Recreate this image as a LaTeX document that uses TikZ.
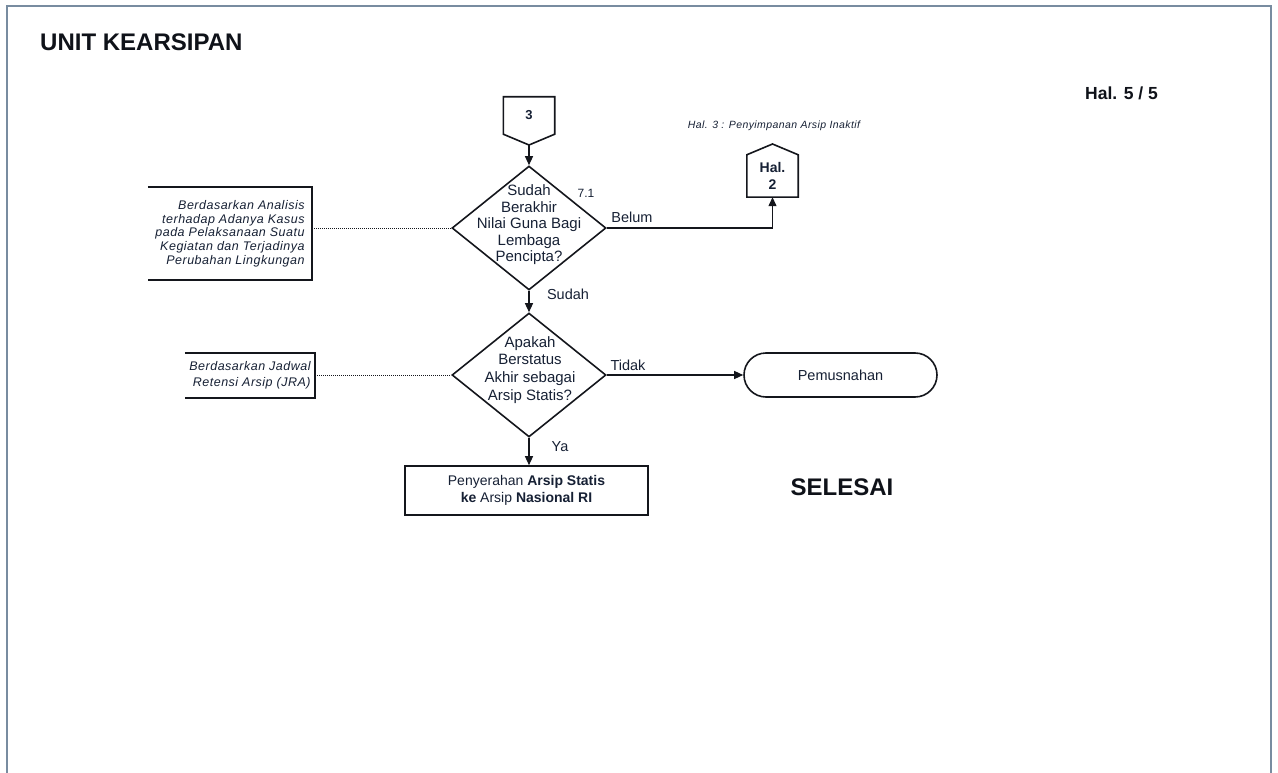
\documentclass[tikz,border=0pt]{standalone}
\usepackage{fontspec}
\setmainfont{Liberation Sans}
\newfontfamily\annfont[LetterSpace=4.0]{Liberation Sans}
\usetikzlibrary{arrows.meta,shapes.geometric,shapes.misc}
\definecolor{ink}{RGB}{22,32,52}
\definecolor{linec}{RGB}{20,22,28}
\definecolor{bordc}{RGB}{120,140,160}
\definecolor{titlec}{RGB}{15,18,25}
\tikzset{
  flow/.style={draw=linec, line width=1.6pt, line join=miter},
  dia/.style={diamond, draw=linec, line width=1.6pt, minimum width=154pt, minimum height=124pt, inner sep=0pt},
  txt/.style={text=ink, font=\fontsize{14.5}{16.5}\selectfont, align=center, inner sep=0pt},
  arr/.style={draw=linec, line width=1.3pt, -{Triangle[length=9pt,width=8pt]}},
  dots/.style={draw=linec, line width=1pt, dash pattern=on 1pt off 1pt},
  anno/.style={align=right, text=ink, inner sep=0pt, font=\annfont\itshape\fontsize{12.5}{13.7}\selectfont},
  holder/.style={inner sep=0pt, minimum width=51pt},
  bigbold/.style={text=titlec, inner sep=0pt, font=\bfseries\fontsize{24}{26}\selectfont}
}
\begin{document}
\begin{tikzpicture}[x=1pt,y=-1pt]
\useasboundingbox (0,0) rectangle (1278,773);
% page frame
\draw[bordc, line width=1.2pt] (7,773) -- (7,6) -- (1271,6) -- (1271,773);

% headings
\node[bigbold, anchor=west] (title) at (40,42) {UNIT KEARSIPAN};
\node[bigbold, anchor=east, font=\bfseries\fontsize{17.5}{20}\selectfont] (page) at (1158,93) {Hal. 5 / 5};
\node[bigbold] (selesai) at (842,487) {SELESAI};

% off-page connector 3
\node[holder, minimum height=37pt, txt, font=\bfseries\fontsize{13}{15}\selectfont] (c3) at (529,115.5) {3};
\coordinate (c3tip) at (529,145);
\draw[flow] (c3.south west) -- (c3.north west) -- (c3.north east) -- (c3.south east) -- (c3tip) -- cycle;

% decision 1
\node[dia] (d1) at (529,228) {};
\node[txt, font=\fontsize{15}{16.5}\selectfont] (t1) at (529,225) {Sudah\\Berakhir\\Nilai Guna Bagi\\Lembaga\\Pencipta?};
\node[txt, font=\fontsize{12}{14}\selectfont] (n71) at (586,193) {7.1};

% decision 2
\node[dia] (d2) at (529,375) {};
\node[txt, font=\fontsize{15}{17.8}\selectfont] (t2) at (530,370) {Apakah\\Berstatus\\Akhir sebagai\\Arsip Statis?};

% annotations
\node[anno, minimum width=164pt, minimum height=93pt] (a1) at (230,233.5)
  {Berdasarkan Analisis\\terhadap Adanya Kasus\\pada Pelaksanaan Suatu\\Kegiatan dan Terjadinya\\Perubahan Lingkungan};
\draw[flow] (a1.north west) -- (a1.north east) -- (a1.south east) -- (a1.south west);
\node[anno, minimum width=130pt, minimum height=45pt, font=\annfont\itshape\fontsize{12.5}{16}\selectfont] (a2) at (250,375.5)
  {Berdasarkan Jadwal\\Retensi Arsip (JRA)};
\draw[flow] (a2.north west) -- (a2.north east) -- (a2.south east) -- (a2.south west);
\draw[dots] (a1.east |- d1.west) -- (d1.west);
\draw[dots] (a2.east |- d2.west) -- (d2.west);

% Hal. 2 connector
\node[holder, minimum height=42pt, txt, font=\bfseries\fontsize{14}{17}\selectfont] (h2) at (772.5,176) {Hal.\\2};
\coordinate (h2peak) at (772.5,144);
\draw[flow] (h2.south west) -- (h2.north west) -- (h2peak) -- (h2.north east) -- (h2.south east) -- cycle;
\node[txt, font=\annfont\itshape\fontsize{10.5}{12}\selectfont] (nhal3) at (774,126) {Hal. 3 : Penyimpanan Arsip Inaktif};

% process box and terminator
\node[draw=linec, line width=1.6pt, minimum width=243pt, minimum height=49pt, txt, font=\fontsize{14}{17}\selectfont] (box) at (526.5,490.5)
  {Penyerahan \textbf{Arsip Statis}\\\textbf{ke} Arsip \textbf{Nasional RI}};
\node[rounded rectangle, draw=linec, line width=1.6pt, minimum width=193pt, minimum height=44pt, txt] (pem) at (840.5,375) {Pemusnahan};

% connectors
\draw[arr] (c3tip) -- (d1.north);
\draw[arr] (d1.south) -- (d2.north);
\draw[arr] (d2.south) -- (d2.south |- box.north);
\draw[arr] (d2.east) -- (pem.west);
\draw[arr] (d1.east) -- (d1.east -| h2.south) -- (h2.south);

% connector labels
\node[txt] (lbelum) at (632,217.5) {Belum};
\node[txt] (lsudah) at (568,294) {Sudah};
\node[txt] (ltidak) at (628,365) {Tidak};
\node[txt] (lya) at (560,447) {Ya};
\end{tikzpicture}
\end{document}
